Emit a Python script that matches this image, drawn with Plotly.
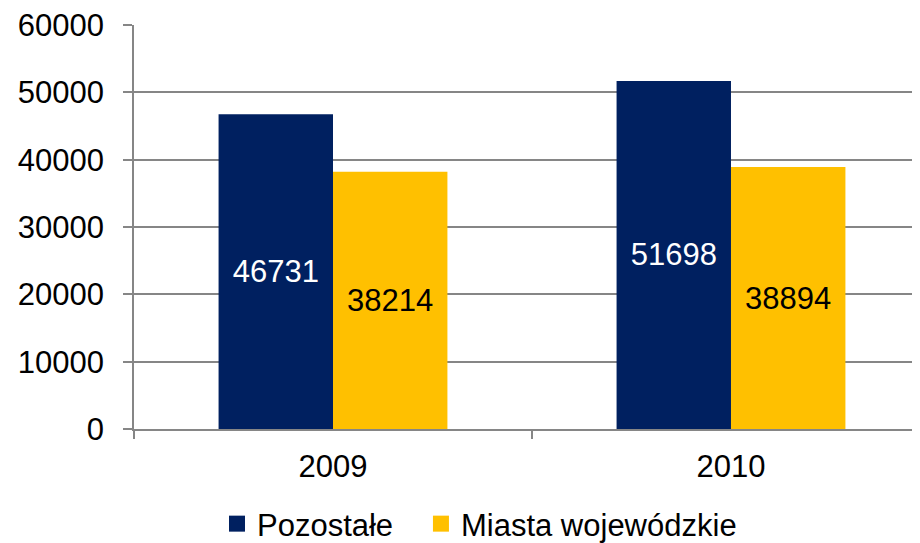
import plotly.graph_objects as go

years = ["2009", "2010"]
pozostale = [46731, 51698]
miasta = [38214, 38894]
series_names = ["Pozostałe", "Miasta wojewódzkie"]
series_colors = ["#002060", "#FFC000"]
y_ticks = [0, 10000, 20000, 30000, 40000, 50000, 60000]

FONT = "Liberation Sans, Arial, sans-serif"

fig = go.Figure()
fig.add_trace(go.Bar(
    x=years, y=pozostale, name=series_names[0], showlegend=False,
    marker=dict(color=series_colors[0], line=dict(width=0)),
    text=[str(v) for v in pozostale], textposition="inside",
    insidetextanchor="middle",
    textfont=dict(family=FONT, size=31, color="white"),
))
fig.add_trace(go.Bar(
    x=years, y=miasta, name=series_names[1], showlegend=False,
    marker=dict(color=series_colors[1], line=dict(width=0)),
    text=[str(v) for v in miasta], textposition="inside",
    insidetextanchor="middle",
    textfont=dict(family=FONT, size=31, color="black"),
))
# legend entries with larger square symbols, one legend box per series
for name, col, lg in zip(series_names, series_colors, ["legend", "legend2"]):
    fig.add_trace(go.Scatter(
        x=[years[0]], y=[None], mode="markers", name=name, legend=lg,
        marker=dict(symbol="square", size=16, color=col),
        hoverinfo="skip",
    ))

legend_common = dict(
    orientation="h", xanchor="left", y=-0.235, yanchor="middle",
    font=dict(family=FONT, size=31, color="black"),
    itemsizing="trace", itemwidth=30, tracegroupgap=0,
    bgcolor="rgba(0,0,0,0)",
)

fig.update_layout(
    width=920, height=543,
    margin=dict(l=126, r=0, t=17, b=121),
    paper_bgcolor="white", plot_bgcolor="white",
    barmode="group", bargap=0.425, bargroupgap=0,
    font=dict(family=FONT, size=31, color="black"),
    showlegend=True,
    legend=dict(x=0.1045, **legend_common),
    legend2=dict(x=0.3614, **legend_common),
    xaxis=dict(
        type="category", range=[-0.5, 1.495], automargin=False,
        showgrid=False, showline=True, linecolor="#868686", linewidth=1.5,
        ticks="outside", tickson="boundaries", ticklen=8, tickcolor="#868686",
        tickwidth=1.5,
        tickfont=dict(family=FONT, size=31, color="black"),
        ticklabelstandoff=9,
    ),
    yaxis=dict(
        range=[0, 60000], tickvals=y_ticks, ticktext=[str(v) for v in y_ticks],
        automargin=False, ticklabeloverflow="allow",
        showgrid=True, gridcolor="#868686", gridwidth=1.5,
        showline=True, linecolor="#868686", linewidth=1.5,
        ticks="outside", ticklen=9, tickcolor="#868686", tickwidth=1.5,
        tickfont=dict(family=FONT, size=31, color="black"),
        ticklabelstandoff=13, zeroline=False,
    ),
)

fig.write_html("out.html")
